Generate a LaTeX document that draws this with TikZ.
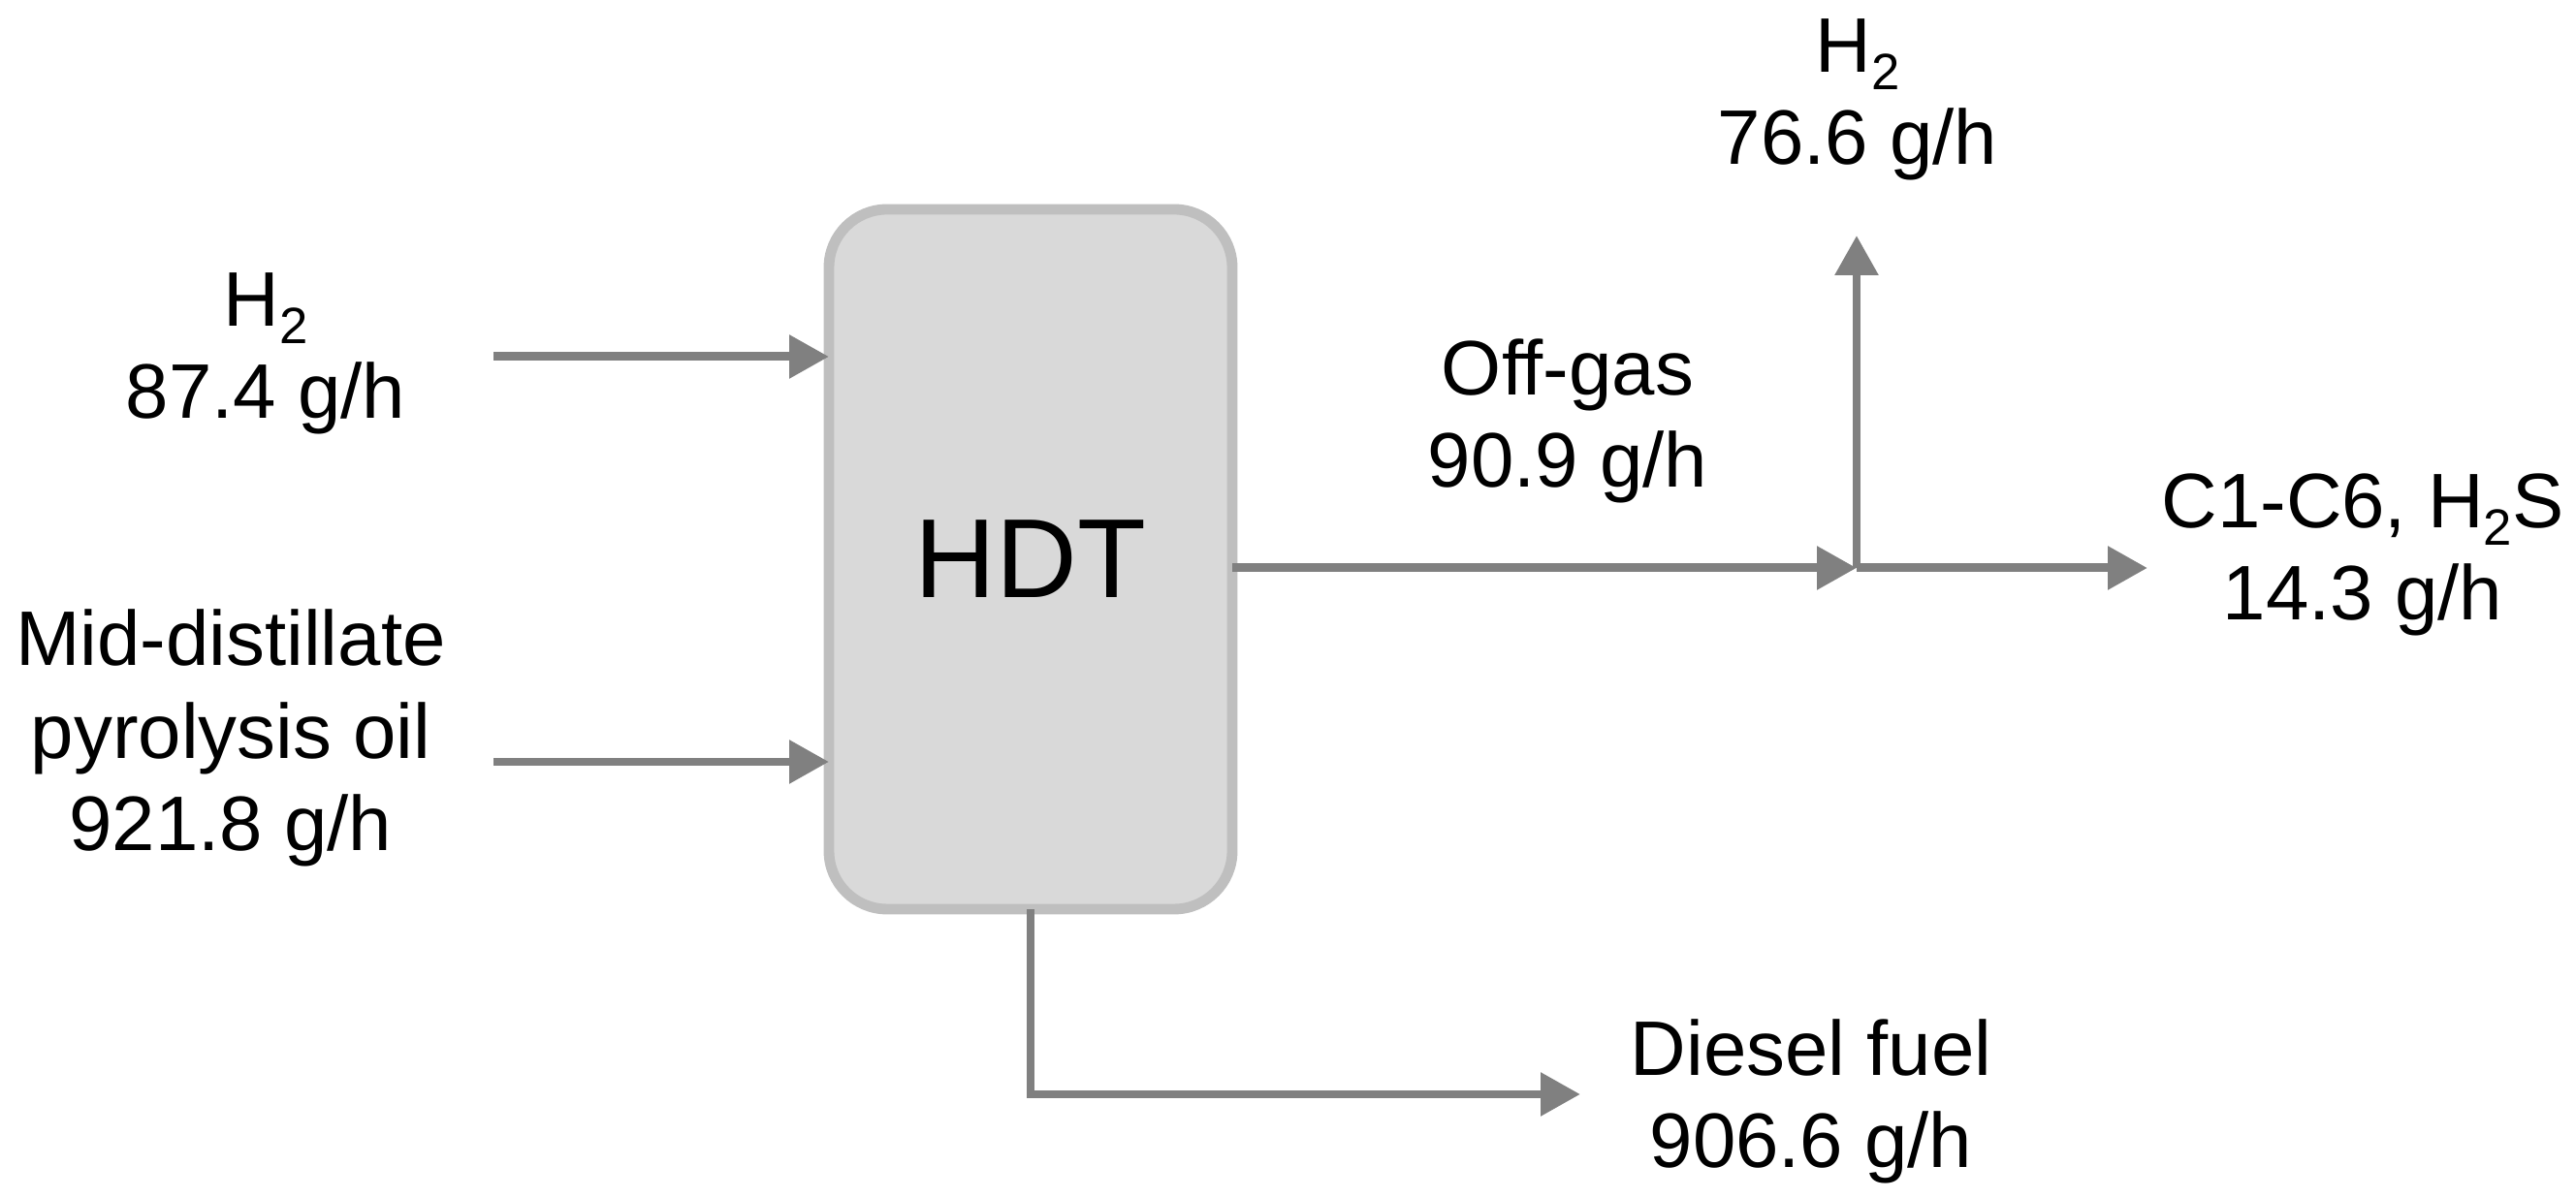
\documentclass[tikz,border=0pt]{standalone}
\usepackage{fontspec}
\setmainfont{Liberation Sans}
\usetikzlibrary{arrows.meta}
\definecolor{flowgray}{HTML}{808080}
\definecolor{boxborder}{HTML}{BFBFBF}
\definecolor{boxfill}{HTML}{D9D9D9}
\newcommand\hsub[1]{\raisebox{-0.23em}{\fontsize{15}{15}\selectfont #1}}
\begin{document}
\begin{tikzpicture}[x=1cm,y=1cm,
  lbl/.style={font=\fontsize{22.7}{27.3}\selectfont, align=center, inner sep=0pt, outer sep=0pt, anchor=base},
  flow/.style={draw=flowgray, line width=2.55pt, -{Triangle[length=0.41cm,width=0.43cm]}},
  flowline/.style={draw=flowgray, line width=2.55pt},
  unit/.style={draw=boxborder, fill=boxfill, line width=3.1pt, rounded corners=0.6cm,
    minimum width=4.16cm, minimum height=7.22cm, inner sep=0pt, outer sep=0pt,
    font=\fontsize{33}{40}\selectfont}]
\useasboundingbox (0,0) rectangle (26.57,12.36);
% unit
\node[unit] (box) at (10.63,6.59) {HDT};
% coordinates
\coordinate (h2in) at (5.09,8.68);
\coordinate (oilin) at (5.09,4.50);
\coordinate (jn) at (19.15,6.50);
\coordinate (h2out) at (19.15,9.93);
\coordinate (gasout) at (22.15,6.50);
\coordinate (dcorner) at (10.63,1.07);
\coordinate (dtip) at (16.30,1.07);
% connectors
\draw[flow] (h2in) -- (h2in -| box.west);
\draw[flow] (oilin) -- (oilin -| box.west);
\draw[flow] (jn -| box.east) -- (jn);
\draw[flow] (jn) -- (h2out);
\draw[flow] (jn) -- (gasout);
\draw[flow] (box.south) -- (dcorner) -- (dtip);
% labels (anchor at baseline of last line)
\node[lbl] (lh2in) at (2.74,8.04) {H\hsub{2}\\87.4 g/h};
\node[lbl] (loil) at (2.38,3.58) {Mid-distillate\\pyrolysis oil\\921.8 g/h};
\node[lbl] (loff) at (16.17,7.33) {Off-gas\\90.9 g/h};
\node[lbl] (lh2out) at (19.16,10.66) {H\hsub{2}\\76.6 g/h};
\node[lbl] (lgas) at (24.37,5.96) {C1-C6, H\hsub{2}S\\14.3 g/h};
\node[lbl] (ldiesel) at (18.68,0.31) {Diesel fuel\\906.6 g/h};
\end{tikzpicture}
\end{document}
